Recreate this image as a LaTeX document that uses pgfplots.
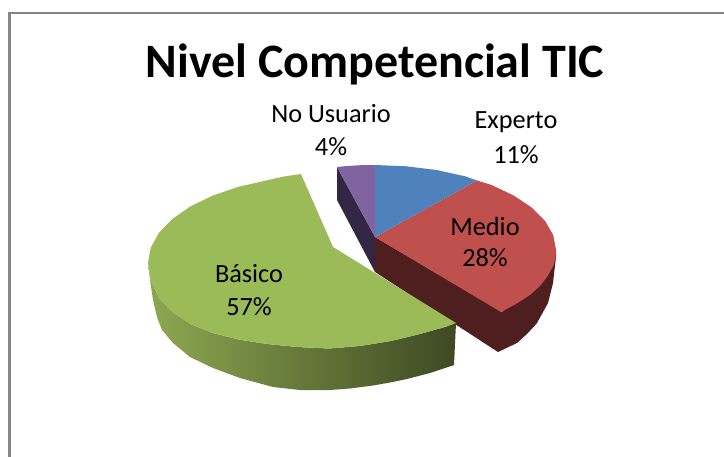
\documentclass[border=0pt]{standalone}
\usepackage{pgfplots}
\pgfplotsset{compat=1.18}
\usepackage{fontspec}
\setmainfont{Carlito}
\definecolor{frameg}{HTML}{868686}
\definecolor{cblue}{HTML}{4F81BD}
\definecolor{cred}{HTML}{C0504D}
\definecolor{cgreen}{HTML}{9BBB59}
\definecolor{cpurple}{HTML}{8064A2}
\definecolor{wred}{HTML}{4E1F1E}
\definecolor{wpurple}{HTML}{332644}
\definecolor{wgl}{HTML}{8DA851}
\definecolor{wgm}{HTML}{667C3B}
\definecolor{wgr}{HTML}{3E4923}
\begin{document}
\begin{tikzpicture}
\begin{axis}[
  scale only axis, width=724pt, height=456pt,
  xmin=0, xmax=724, ymin=0, ymax=456, y dir=reverse,
  axis lines=none, clip=true
]
% background
\addplot[fill=white, draw=none] coordinates {(0,0)(724,0)(724,456)(0,456)(0,0)};
% frame
\addplot[frameg, line width=2.6pt] coordinates {(9.7,460)(9.7,13)(730,13)};
% purple wall
\addplot[fill=wpurple, draw=none] coordinates {(337,167)(337,200)(375,272)(375,237)(337,167)};
% red walls
\addplot[fill=wred, draw=none] coordinates {(375,237)(375,272)(498,352)(517,343)(528,333)(537,323)(548,303)(553,283)(556,257)(556,250)(502,312)(375,237)};
% red top
\addplot[fill=cred, draw=none] coordinates {(375,237)(477,180.5)(491.3,184.9)(513.6,195.4)(531.7,207.5)(545.1,220.9)(553.3,235.2)(556,250)(555.5,258)(553.3,266)(547,277)(540,286)(530,295)(516,304)(501,312)(375,237)};
% blue top
\addplot[fill=cblue, draw=none] coordinates {(375,237)(375,165)(406.4,166.3)(436.9,170.1)(465.5,176.4)(477,180.5)(375,237)};
% purple top
\addplot[fill=cpurple, draw=none] coordinates {(375,237)(337,167)(343.6,166.3)(360,165.2)(375,165)(375,237)};
% green wall
\addplot[draw=none, left color=wgl, middle color=wgm, right color=wgr] coordinates {(148,263)(150.7,280)(158.9,298)(172.3,312)(190.4,324)(212.7,333)(238.5,339.5)(267.1,344)(297.6,347)(329,348.5)(360,346)(391,341)(420,334)(445,327)(456,323)(454,365)(430,373)(407,379)(390,382.5)(373,385.5)(350,388.5)(330,390)(300,390)(273,387)(240,378)(213,368)(190,357)(173,343)(162,330)(157,317)(153,300)(150,280)(148,263)};
% green top
\addplot[fill=cgreen, draw=none] coordinates {(333,247)(301,174)(284,176.5)(267.1,180.3)(238.5,186.8)(212.7,195.6)(190.4,206.4)(172.3,219)(158.9,232.9)(150.7,247.7)(148,263)(150.7,280)(158.9,298)(172.3,312)(190.4,324)(212.7,333)(238.5,339.5)(267.1,344)(297.6,347)(329,348.5)(360,346)(391,341)(420,334)(445,327)(456,323)(333,247)};
% texts
\node[font=\fontsize{48}{50}\selectfont\bfseries, text=black] at (axis cs:375,64) {Nivel Competencial TIC};
\node[font=\fontsize{26.3}{26}\selectfont] at (axis cs:331,114) {No Usuario};
\node[font=\fontsize{26.3}{26}\selectfont] at (axis cs:331,147) {4\%};
\node[font=\fontsize{26.3}{26}\selectfont] at (axis cs:516,122) {Experto};
\node[font=\fontsize{26.3}{26}\selectfont] at (axis cs:516,155) {11\%};
\node[font=\fontsize{26.3}{26}\selectfont] at (axis cs:485,226) {Medio};
\node[font=\fontsize{26.3}{26}\selectfont] at (axis cs:485,258) {28\%};
\node[font=\fontsize{26.3}{26}\selectfont] at (axis cs:249,274) {Básico};
\node[font=\fontsize{26.3}{26}\selectfont] at (axis cs:249,307) {57\%};
\end{axis}
\end{tikzpicture}
\end{document}
